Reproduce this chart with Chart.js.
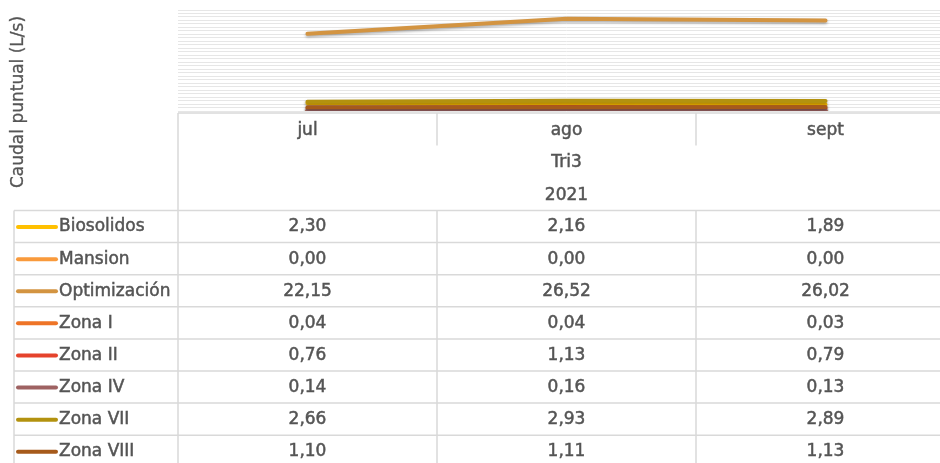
<!DOCTYPE html>
<html>
<head>
<meta charset="utf-8">
<script src="https://cdn.jsdelivr.net/npm/chart.js@4.4.1/dist/chart.umd.min.js"></script>
<style>
  html, body { margin: 0; padding: 0; background: #fff; overflow: hidden; }
  #wrap { width: 960px; height: 463px; }
</style>
</head>
<body>
<div id="wrap"><canvas id="caudalChart" width="960" height="463"></canvas></div>
<script>
// datos del gráfico
const meses = ['jul', 'ago', 'sept'];
const trimestre = 'Tri3';
const anio = '2021';
const series = ['Biosolidos', 'Mansion', 'Optimización', 'Zona I', 'Zona II', 'Zona IV', 'Zona VII', 'Zona VIII'];
const biosolidos = [2.30, 2.16, 1.89];
const mansion = [0.00, 0.00, 0.00];
const optimizacion = [22.15, 26.52, 26.02];
const zonaI = [0.04, 0.04, 0.03];
const zonaII = [0.76, 1.13, 0.79];
const zonaIV = [0.14, 0.16, 0.13];
const zonaVII = [2.66, 2.93, 2.89];
const zonaVIII = [1.10, 1.11, 1.13];
const colores = ['#FFC000', '#F99A3C', '#D39441', '#EE7427', '#E5432C', '#9E6262', '#B3920F', '#A65A1B'];

const valores = [biosolidos, mansion, optimizacion, zonaI, zonaII, zonaIV, zonaVII, zonaVIII];

const FONT = '17px "DejaVu Sans", sans-serif';
const TXT = '#555555';
const LINEA = '#d9d9d9';

// texto un poco más grueso, como en Excel
function texto(ctx, t, x, y) {
    ctx.fillText(t, x, y);
    ctx.strokeText(t, x, y);
}

// tabla de datos bajo el gráfico (estilo Excel)
const tablaPlugin = {
    id: 'tablaDatos',
    beforeDatasetsDraw(chart) {
        const ctx = chart.ctx;
        ctx.save();
        ctx.shadowColor = 'rgba(0,0,0,0.35)';
        ctx.shadowBlur = 3;
        ctx.shadowOffsetY = 1.5;
    },
    afterDatasetsDraw(chart) {
        chart.ctx.restore();
    },
    afterDraw(chart) {
        const ctx = chart.ctx;
        const x = chart.scales.x;
        const area = chart.chartArea;
        const right = chart.width;
        const top = area.bottom + 2;
        const hdrH = 32.5;
        const rowsTop = top + hdrH * 3;
        const rowH = 32.1;
        const leftCol = 14;
        const cols = meses.map((m, i) => x.getPixelForValue(i));
        const half = (cols[1] - cols[0]) / 2;

        ctx.save();
        ctx.strokeStyle = LINEA;
        ctx.lineWidth = 1.5;
        ctx.beginPath();
        // cabecera
        ctx.moveTo(area.left, top); ctx.lineTo(right, top);
        ctx.moveTo(area.left, top); ctx.lineTo(area.left, chart.height);
        cols.slice(1).forEach(c => {
            ctx.moveTo(c - half, top); ctx.lineTo(c - half, top + hdrH);
            ctx.moveTo(c - half, rowsTop); ctx.lineTo(c - half, chart.height);
        });
        // filas
        for (let r = 0; r <= series.length; r++) {
            const y = rowsTop + r * rowH;
            ctx.moveTo(leftCol, y); ctx.lineTo(right, y);
        }
        ctx.moveTo(leftCol, rowsTop); ctx.lineTo(leftCol, chart.height);
        ctx.stroke();

        ctx.font = FONT;
        ctx.textAlign = 'center';
        ctx.textBaseline = 'middle';
        const setTexto = () => {
            ctx.fillStyle = TXT;
            ctx.strokeStyle = TXT;
            ctx.lineWidth = 0.5;
        };
        setTexto();
        meses.forEach((m, i) => texto(ctx, m, cols[i], top + hdrH / 2 + 1));
        texto(ctx, trimestre, cols[1], top + hdrH * 1.5 + 1);
        texto(ctx, anio, cols[1], top + hdrH * 2.5 + 1);

        series.forEach((s, r) => {
            const yc = rowsTop + r * rowH + rowH / 2 + 0.5;
            ctx.strokeStyle = colores[r];
            ctx.lineWidth = 4;
            ctx.lineCap = 'round';
            ctx.beginPath();
            ctx.moveTo(18, yc); ctx.lineTo(56, yc);
            ctx.stroke();
            setTexto();
            ctx.textAlign = 'left';
            texto(ctx, s, 59, yc);
            ctx.textAlign = 'center';
            valores[r].forEach((v, i) => {
                texto(ctx, v.toFixed(2).replace('.', ','), cols[i], yc);
            });
        });

        // título del eje Y
        ctx.font = '17px "DejaVu Sans", sans-serif';
        ctx.translate(19, 102);
        ctx.rotate(-Math.PI / 2);
        ctx.textAlign = 'center';
        ctx.lineWidth = 0.3;
        texto(ctx, 'Caudal puntual (L/s)', 0, 0);
        ctx.restore();
    }
};

const ctx = document.getElementById('caudalChart').getContext('2d');
new Chart(ctx, {
    type: 'line',
    data: {
        labels: meses,
        datasets: series.map((s, i) => ({
            label: s,
            data: valores[i],
            order: series.length - i,
            borderColor: colores[i],
            backgroundColor: colores[i],
            borderWidth: 4,
            pointRadius: 0,
            borderCapStyle: 'round',
            tension: 0
        }))
    },
    options: {
        responsive: false,
        animation: false,
        layout: { padding: { left: 178, right: 5, top: 10, bottom: 352 } },
        plugins: {
            legend: { display: false },
            tooltip: { enabled: false }
        },
        scales: {
            x: {
                offset: true,
                ticks: { display: false },
                grid: { display: false, drawTicks: false },
                border: { display: false }
            },
            y: {
                min: 0,
                max: 29,
                ticks: { display: false, stepSize: 1 },
                grid: { color: '#e6e6e6', lineWidth: 1, drawTicks: false },
                border: { display: false }
            }
        }
    },
    plugins: [tablaPlugin]
});
</script>
</body>
</html>
